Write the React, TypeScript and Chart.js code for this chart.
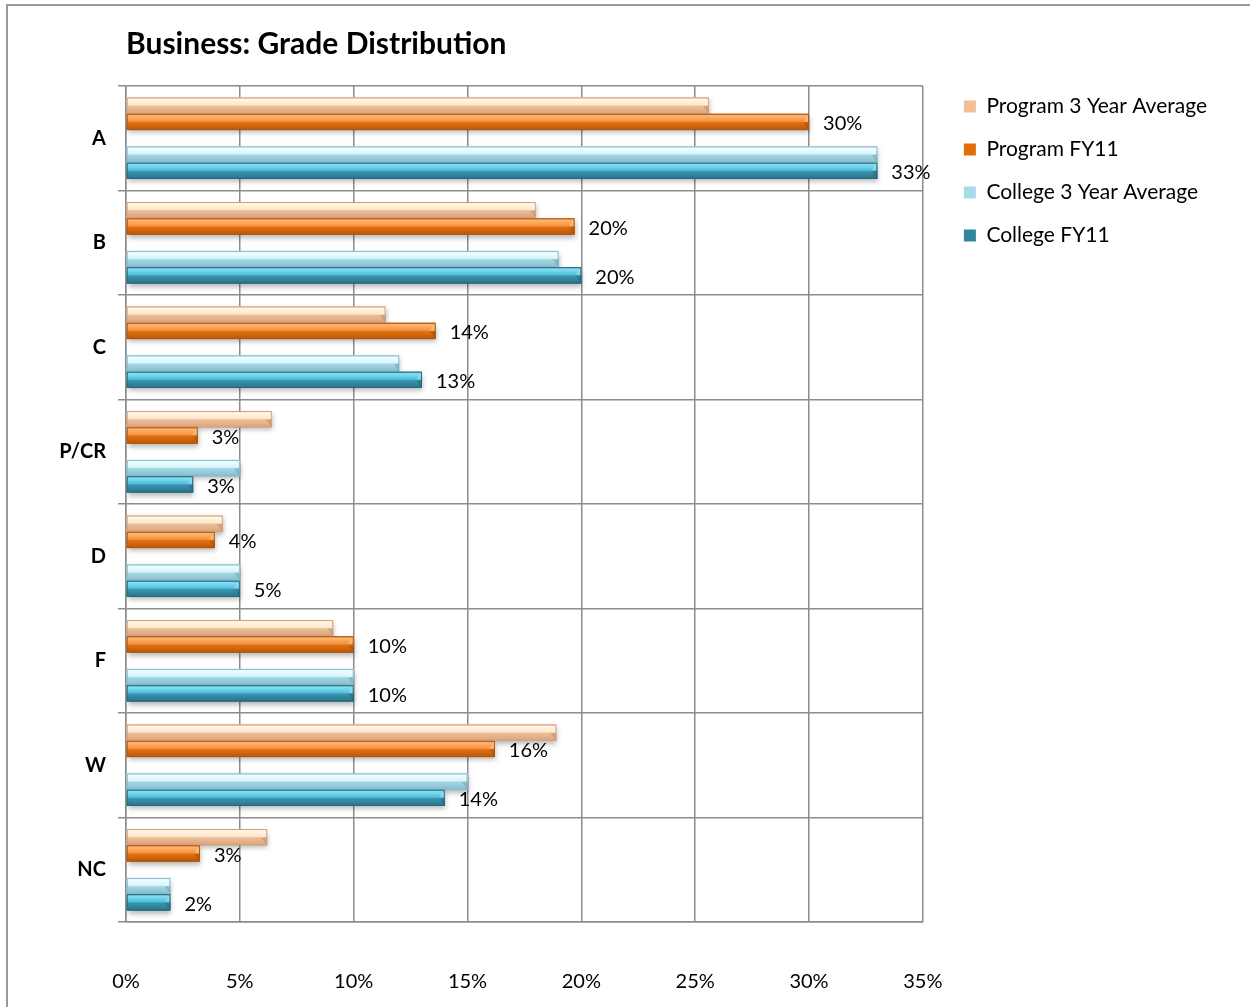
import React, { useEffect, useRef } from "react";
import { Chart, registerables } from "chart.js";

Chart.register(...registerables);

// ---- data ----
const categories = ["A", "B", "C", "P/CR", "D", "F", "W", "NC"];
const seriesNames = [
  "Program 3 Year Average",
  "Program FY11",
  "College 3 Year Average",
  "College FY11",
];
const program3Yr = [25.6, 18.0, 11.4, 6.4, 4.25, 9.1, 18.9, 6.2];
const programFY11 = [30.0, 19.7, 13.6, 3.15, 3.9, 10.0, 16.2, 3.25];
const college3Yr = [33.0, 19.0, 12.0, 5.0, 5.0, 10.0, 15.0, 1.95];
const collegeFY11 = [33.0, 20.0, 13.0, 2.95, 5.0, 10.0, 14.0, 1.95];
const xMin = 0;
const xMax = 35;
const xStep = 5;
const titleText = "Business: Grade Distribution";

// ---- styles ----
const FONT = "Lato, 'Open Sans', 'DejaVu Sans', sans-serif";
const GRID = "#8c8c8c";
const solid = ["#f0bf98", "#e46c0a", null, "#a8dbe8", "#31859c"];
const outline = ["#d6a27c", "#b0560b", null, "#86bccb", "#26697c"];
const stops: (string[] | null)[] = [
  ["#f6d2b0", "#fff7e8", "#fde6c8", "#ecbd97", "#d9a47d"],
  ["#f19a50", "#fcb672", "#f7923f", "#e2700f", "#b7570a"],
  null,
  ["#c4ebf4", "#f0fdff", "#d4f4fb", "#a4d6e3", "#85bdcc"],
  ["#56bfd9", "#86def3", "#4fc0dd", "#3a95ae", "#28718a"],
];
const labelled = [false, true, false, false, true];

const bevelPlugin = {
  id: "bevelBars",
  afterLayout(chart: any) {
    const lg = chart.legend;
    if (lg && chart.chartArea) {
      const w = lg.width;
      const h = lg.height;
      lg.left = chart.chartArea.right + 19;
      lg.top = chart.chartArea.top - 12;
      lg.right = lg.left + w;
      lg.bottom = lg.top + h;
    }
  },
  afterDatasetsDraw(chart: any) {
    const ctx = chart.ctx;
    const area = chart.chartArea;
    ctx.save();
    ctx.beginPath();
    ctx.rect(area.left, area.top - 2, area.right - area.left + 200, area.bottom - area.top + 6);
    ctx.clip();
    for (let di = 0; di < chart.data.datasets.length; di++) {
      const st = stops[di];
      if (!st) continue;
      const meta = chart.getDatasetMeta(di);
      meta.data.forEach((el: any) => {
        const p = el.getProps(["x", "y", "base", "height"], true);
        if (p.x == null || isNaN(p.x)) return;
        const left = Math.min(p.base, p.x);
        const w = Math.abs(p.x - p.base);
        const top = p.y - p.height / 2;
        const h = p.height;
        const g = ctx.createLinearGradient(0, top, 0, top + h);
        g.addColorStop(0, st[0]);
        g.addColorStop(0.12, st[1]);
        g.addColorStop(0.46, st[2]);
        g.addColorStop(0.54, st[3]);
        g.addColorStop(1, st[4]);
        ctx.save();
        ctx.shadowColor = "rgba(0,0,0,0.28)";
        ctx.shadowBlur = 5;
        ctx.shadowOffsetX = 1;
        ctx.shadowOffsetY = 3;
        ctx.fillStyle = g;
        ctx.fillRect(left, top, w, h);
        ctx.restore();
        // bevel at the right end
        const bw = Math.min(6, w / 2);
        ctx.fillStyle = "rgba(255,255,255,0.25)";
        ctx.beginPath();
        ctx.moveTo(left + w - bw, top + h / 2);
        ctx.lineTo(left + w, top);
        ctx.lineTo(left + w, top + h / 2);
        ctx.closePath();
        ctx.fill();
        ctx.fillStyle = "rgba(0,0,0,0.12)";
        ctx.beginPath();
        ctx.moveTo(left + w - bw, top + h / 2);
        ctx.lineTo(left + w, top + h);
        ctx.lineTo(left + w, top + h / 2);
        ctx.closePath();
        ctx.fill();
        ctx.strokeStyle = outline[di] as string;
        ctx.lineWidth = 1;
        ctx.strokeRect(left + 0.5, top + 0.5, w - 1, h - 1);
      });
    }
    ctx.restore();
    // value labels
    ctx.save();
    ctx.font = `20px ${FONT}`;
    ctx.fillStyle = "#000";
    ctx.textAlign = "left";
    ctx.textBaseline = "middle";
    for (let di = 0; di < chart.data.datasets.length; di++) {
      if (!labelled[di]) continue;
      const meta = chart.getDatasetMeta(di);
      const vals = chart.data.datasets[di].data;
      meta.data.forEach((el: any, i: number) => {
        const p = el.getProps(["x", "y"], true);
        ctx.fillText(`${Math.round(vals[i])}%`, p.x + 14, p.y + 2);
      });
    }
    ctx.restore();
  },
};

export default function App() {
  const ref = useRef<HTMLCanvasElement | null>(null);
  useEffect(() => {
    if (!ref.current) return;
    const blank = categories.map(() => null);
    const chart = new Chart(ref.current, {
      type: "bar",
      data: {
        labels: categories,
        datasets: [
          { label: seriesNames[0], data: program3Yr, backgroundColor: solid[0] as string },
          { label: seriesNames[1], data: programFY11, backgroundColor: solid[1] as string },
          { label: "", data: blank as any, backgroundColor: "rgba(0,0,0,0)" },
          { label: seriesNames[2], data: college3Yr, backgroundColor: solid[3] as string },
          { label: seriesNames[3], data: collegeFY11, backgroundColor: solid[4] as string },
        ],
      },
      options: {
        indexAxis: "y",
        responsive: false,
        animation: false,
        devicePixelRatio: 1,
        categoryPercentage: 0.78,
        barPercentage: 1.0,
        layout: { padding: { left: 8, right: 52, top: 0, bottom: 0 } },
        plugins: {
          title: {
            display: true,
            text: titleText,
            align: "start",
            fullSize: false,
            color: "#000",
            font: { family: FONT, size: 30, weight: "bold", lineHeight: 1.2 },
            padding: { top: 26, bottom: 24 },
          },
          legend: {
            position: "right",
            align: "start",
            labels: {
              filter: (item: any) => item.text !== "",
              boxWidth: 12,
              boxHeight: 12,
              padding: 22,
              color: "#000",
              font: { family: FONT, size: 21 },
            },
          },
          tooltip: { enabled: false },
        },
        scales: {
          x: {
            type: "linear",
            min: xMin,
            max: xMax,
            ticks: {
              stepSize: xStep,
              padding: 48,
              color: "#000",
              font: { family: FONT, size: 20 },
              callback: (v: any) => `${v}%`,
            },
            grid: { color: GRID, lineWidth: 1.5, drawTicks: false },
            border: { display: true, color: GRID, width: 1.5 },
            afterFit: (s: any) => {
              s.height = 85;
            },
          },
          y: {
            type: "category",
            ticks: {
              padding: 12,
              color: "#000",
              font: { family: FONT, size: 20, weight: "bold" },
            },
            grid: { color: GRID, lineWidth: 1.5, tickLength: 8, offset: true },
            border: { display: true, color: GRID, width: 1.5 },
            afterFit: (s: any) => {
              s.width = 118;
            },
          },
        },
      },
      plugins: [bevelPlugin],
    } as any);
    return () => chart.destroy();
  }, []);

  return (
    <div style={{ position: "absolute", left: 0, top: 0, width: 1250, height: 1007, background: "#fff" }}>
      <div
        style={{
          position: "absolute",
          left: 6,
          top: 4,
          right: 0,
          bottom: 0,
          borderTop: "2px solid #9a9a9a",
          borderLeft: "2px solid #9a9a9a",
        }}
      />
      <canvas
        ref={ref}
        width={1250}
        height={1007}
        style={{ position: "absolute", left: 0, top: 0, width: 1250, height: 1007 }}
      />
    </div>
  );
}
